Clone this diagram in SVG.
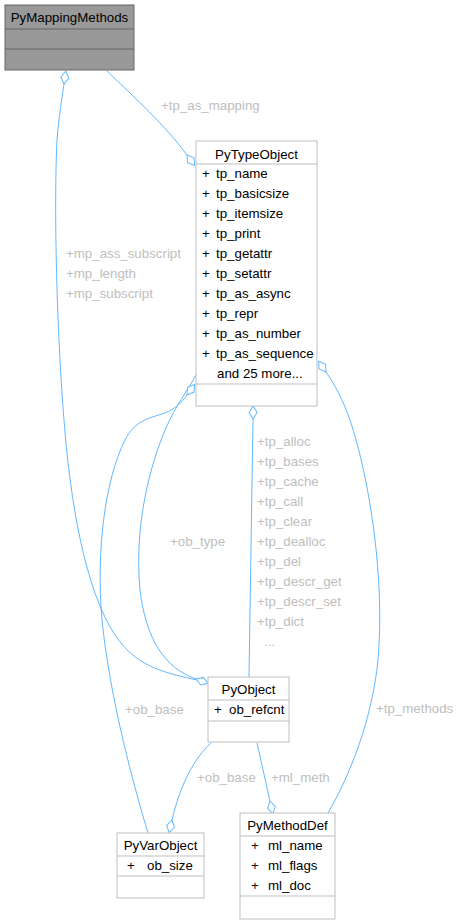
<svg xmlns="http://www.w3.org/2000/svg" width="462" height="924" viewBox="0 0 462 924">
<style>
text{font-family:"Liberation Sans",Arial,sans-serif;font-size:13.3px;fill:#000}
.c{text-anchor:middle}
.l{fill:#bebebe}
.box{fill:#fff;stroke:#bfbfbf;stroke-width:1}
.sel{fill:#999999;stroke:#666666;stroke-width:1}
.sep{stroke:#bfbfbf;stroke-width:1}
.sep2{stroke:#666666;stroke-width:1}
.e{fill:none;stroke:#63b8ff;stroke-width:1;marker-end:url(#dia)}
.n{fill:none;stroke:#63b8ff;stroke-width:1}
</style>
<defs>
<marker id="dia" markerUnits="userSpaceOnUse" markerWidth="15" markerHeight="10" viewBox="-1 -5 15 10" refX="0" refY="0" orient="auto">
<path d="M0,0 L6.5,-4 L13,0 L6.5,4 Z" fill="#fff" stroke="#63b8ff" stroke-width="1"/>
</marker>
</defs>
<rect width="462" height="924" fill="#fff"/>
<g id="connectors">
<path class="e" d="M107,71 C135,98 165,125 187,155"/>
<path class="e" d="M197,680 C160,672 135,665 115,635 C85,590 70,500 64,420 C56,320 54,200 57,140 C59,115 62,98 64,84"/>
<path class="e" d="M196,375 C188,390 176,405 166,428 C150,465 134,525 140,590 C146,640 165,668 196,679"/>
<path class="e" d="M148,833 C135,790 110,700 102,620 C96,550 105,480 125,440 C135,420 150,418 165,413 C175,409 182,402 187,395"/>
<path class="e" d="M249,677 L253,419"/>
<path class="e" d="M328,813 C350,775 372,720 378,660 C385,580 370,480 350,420 C343,400 335,385 326,372"/>
<path class="e" d="M257,743 L270,801"/>
<path class="e" d="M211,743 C195,757 180,785 172,820"/>
<text class="l" x="161" y="110">+tp_as_mapping</text>
<text class="l" x="66" y="258">+mp_ass_subscript</text>
<text class="l" x="66" y="278">+mp_length</text>
<text class="l" x="66" y="298">+mp_subscript</text>
<text class="l" x="257" y="446">+tp_alloc</text>
<text class="l" x="257" y="466">+tp_bases</text>
<text class="l" x="257" y="486">+tp_cache</text>
<text class="l" x="257" y="506">+tp_call</text>
<text class="l" x="257" y="526">+tp_clear</text>
<text class="l" x="257" y="546">+tp_dealloc</text>
<text class="l" x="257" y="566">+tp_del</text>
<text class="l" x="257" y="586">+tp_descr_get</text>
<text class="l" x="257" y="606">+tp_descr_set</text>
<text class="l" x="257" y="626">+tp_dict</text>
<text class="l" x="264" y="646">...</text>
<text class="l" x="170" y="546">+ob_type</text>
<text class="l" x="125" y="714">+ob_base</text>
<text class="l" x="197" y="782">+ob_base</text>
<text class="l" x="271" y="782">+ml_meth</text>
<text class="l" x="376" y="713">+tp_methods</text>
</g>
<g id="PyMappingMethods">
<rect class="sel" x="5" y="5" width="129" height="65"/>
<line class="sep2" x1="5" y1="29" x2="134" y2="29"/>
<line class="sep2" x1="5" y1="49" x2="134" y2="49"/>
<text class="c" x="69.5" y="22">PyMappingMethods</text>
</g>
<g id="PyTypeObject">
<rect class="box" x="196" y="141" width="121" height="265"/>
<line class="sep" x1="196" y1="164" x2="317" y2="164"/>
<line class="sep" x1="196" y1="384" x2="317" y2="384"/>
<text class="c" x="256.5" y="158.5">PyTypeObject</text>
<text x="202" y="178">+</text><text x="216" y="178">tp_name</text>
<text x="202" y="198">+</text><text x="216" y="198">tp_basicsize</text>
<text x="202" y="218">+</text><text x="216" y="218">tp_itemsize</text>
<text x="202" y="238">+</text><text x="216" y="238">tp_print</text>
<text x="202" y="258">+</text><text x="216" y="258">tp_getattr</text>
<text x="202" y="278">+</text><text x="216" y="278">tp_setattr</text>
<text x="202" y="298">+</text><text x="216" y="298">tp_as_async</text>
<text x="202" y="318">+</text><text x="216" y="318">tp_repr</text>
<text x="202" y="338">+</text><text x="216" y="338">tp_as_number</text>
<text x="202" y="358">+</text><text x="216" y="358">tp_as_sequence</text>
<text x="217" y="378">and 25 more...</text>
</g>
<g id="PyObject">
<rect class="box" x="208" y="677" width="81" height="65"/>
<line class="sep" x1="208" y1="700" x2="289" y2="700"/>
<line class="sep" x1="208" y1="721" x2="289" y2="721"/>
<text class="c" x="248.5" y="694">PyObject</text>
<text x="214" y="714">+</text><text x="229" y="714">ob_refcnt</text>
</g>
<g id="PyVarObject">
<rect class="box" x="117" y="833" width="87" height="65"/>
<line class="sep" x1="117" y1="856" x2="204" y2="856"/>
<line class="sep" x1="117" y1="876" x2="204" y2="876"/>
<text class="c" x="160.5" y="850">PyVarObject</text>
<text x="127" y="870">+</text><text x="147" y="870">ob_size</text>
</g>
<g id="PyMethodDef">
<rect class="box" x="240" y="813" width="95" height="106"/>
<line class="sep" x1="240" y1="836" x2="335" y2="836"/>
<line class="sep" x1="240" y1="896" x2="335" y2="896"/>
<text class="c" x="287.5" y="830">PyMethodDef</text>
<text x="251" y="850">+</text><text x="268" y="850">ml_name</text>
<text x="251" y="870">+</text><text x="268" y="870">ml_flags</text>
<text x="251" y="890">+</text><text x="268" y="890">ml_doc</text>
</g>
</svg>
